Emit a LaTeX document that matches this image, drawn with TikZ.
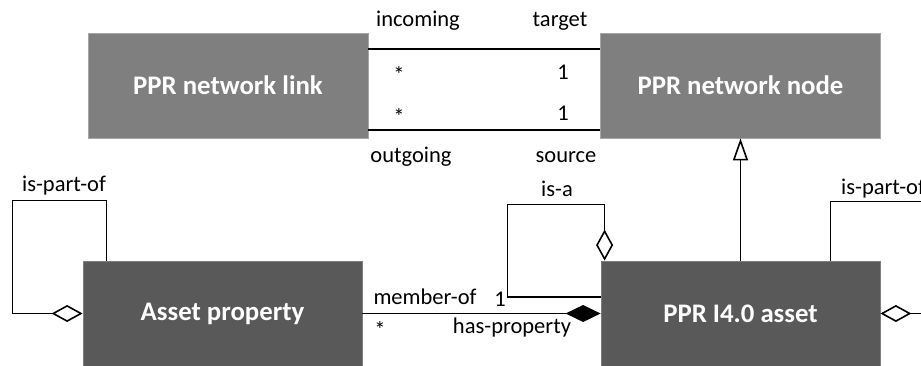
\documentclass[tikz,border=0pt]{standalone}
\usepackage{fontspec}
\setmainfont{Carlito}
\usetikzlibrary{arrows.meta}
\definecolor{boxlight}{HTML}{7F7F7F}
\definecolor{boxdark}{HTML}{595959}
\definecolor{edgelight}{HTML}{A6A6A6}
\definecolor{edgedark}{HTML}{7F7F7F}
\tikzset{
  classbox/.style={rectangle, inner sep=0pt, line width=0.8pt, text=white,
    font=\fontsize{26.8}{30}\selectfont\bfseries},
  upperbox/.style={classbox, fill=boxlight, draw=edgelight,
    minimum width=280pt, minimum height=105pt},
  lowerbox/.style={classbox, fill=boxdark, draw=edgedark,
    minimum width=279pt, minimum height=105pt},
  lbl/.style={font=\fontsize{22.5}{26}\selectfont, inner sep=0pt},
  conn/.style={line width=1.6pt, black},
  aggr/.style={conn, {Diamond[open, length=31pt, width=17pt, line width=1.6pt]}-},
  compo/.style={conn, -{Diamond[length=35pt, width=17pt]}},
  gener/.style={conn, -{Triangle[open, length=22pt, width=15pt, line width=1.6pt]}}
}
\begin{document}
\begin{tikzpicture}[x=1pt, y=-1pt]
  \useasboundingbox (0,0) rectangle (921,365);
  \clip (0,0) rectangle (921,365);

  % classes
  \node[upperbox] (link)  at (228,85.5)  {PPR network link};
  \node[upperbox] (net)   at (740.5,85.5) {PPR network node};
  \node[lowerbox] (prop)  at (222.5,313.5) {Asset property};
  \node[lowerbox] (asset) at (740.5,313.5) {PPR I4.0 asset};

  % link -- node associations
  \draw[conn] ([yshift=36.5pt]link.east) -- ([yshift=36.5pt]net.west);
  \draw[conn] ([yshift=-44.5pt]link.east) -- ([yshift=-44.5pt]net.west);
  \node[lbl] (lin)  at (418,21)  {incoming};
  \node[lbl] (ltg)  at (560,21)  {target};
  \node[lbl] (lm1)  at (399,75)  {*};
  \node[lbl] (lo1)  at (563,72)  {1};
  \node[lbl] (lm2)  at (399,117) {*};
  \node[lbl] (lo2)  at (563,113) {1};
  \node[lbl] (lout) at (411,157) {outgoing};
  \node[lbl] (lsrc) at (566,157) {source};

  % generalisation
  \draw[gener] (asset.north) -- (net.south);

  % is-a self association
  \draw[aggr] ([xshift=4pt]asset.north west) -- ++(0,-56)
    -| ([xshift=-93pt,yshift=16.5pt]asset.west) -- ([yshift=16.5pt]asset.west);
  \node[lbl] (lisa) at (557,189) {is-a};

  % is-part-of on the asset
  \draw[aggr] (asset.east) -- ++(80,0)
    |- ([xshift=-50pt,yshift=59pt]asset.north east) -- ([xshift=-50pt]asset.north east);
  \node[lbl, anchor=west] (lpart2) at (841,189) {is-part-of};

  % is-part-of on the property
  \draw[aggr] (prop.west) -- ++(-70,0)
    |- ([xshift=24pt,yshift=60pt]prop.north west)
    -- ([xshift=24pt]prop.north west);
  \node[lbl] (lpart1) at (64,186) {is-part-of};

  % membership
  \draw[compo] (prop.east) -- (asset.west);
  \node[lbl] (lmem)  at (425,297) {member-of};
  \node[lbl] (lone)  at (500,299) {1};
  \node[lbl] (lstar) at (380,330) {*};
  \node[lbl] (lhas)  at (512,327) {has-property};
\end{tikzpicture}
\end{document}
